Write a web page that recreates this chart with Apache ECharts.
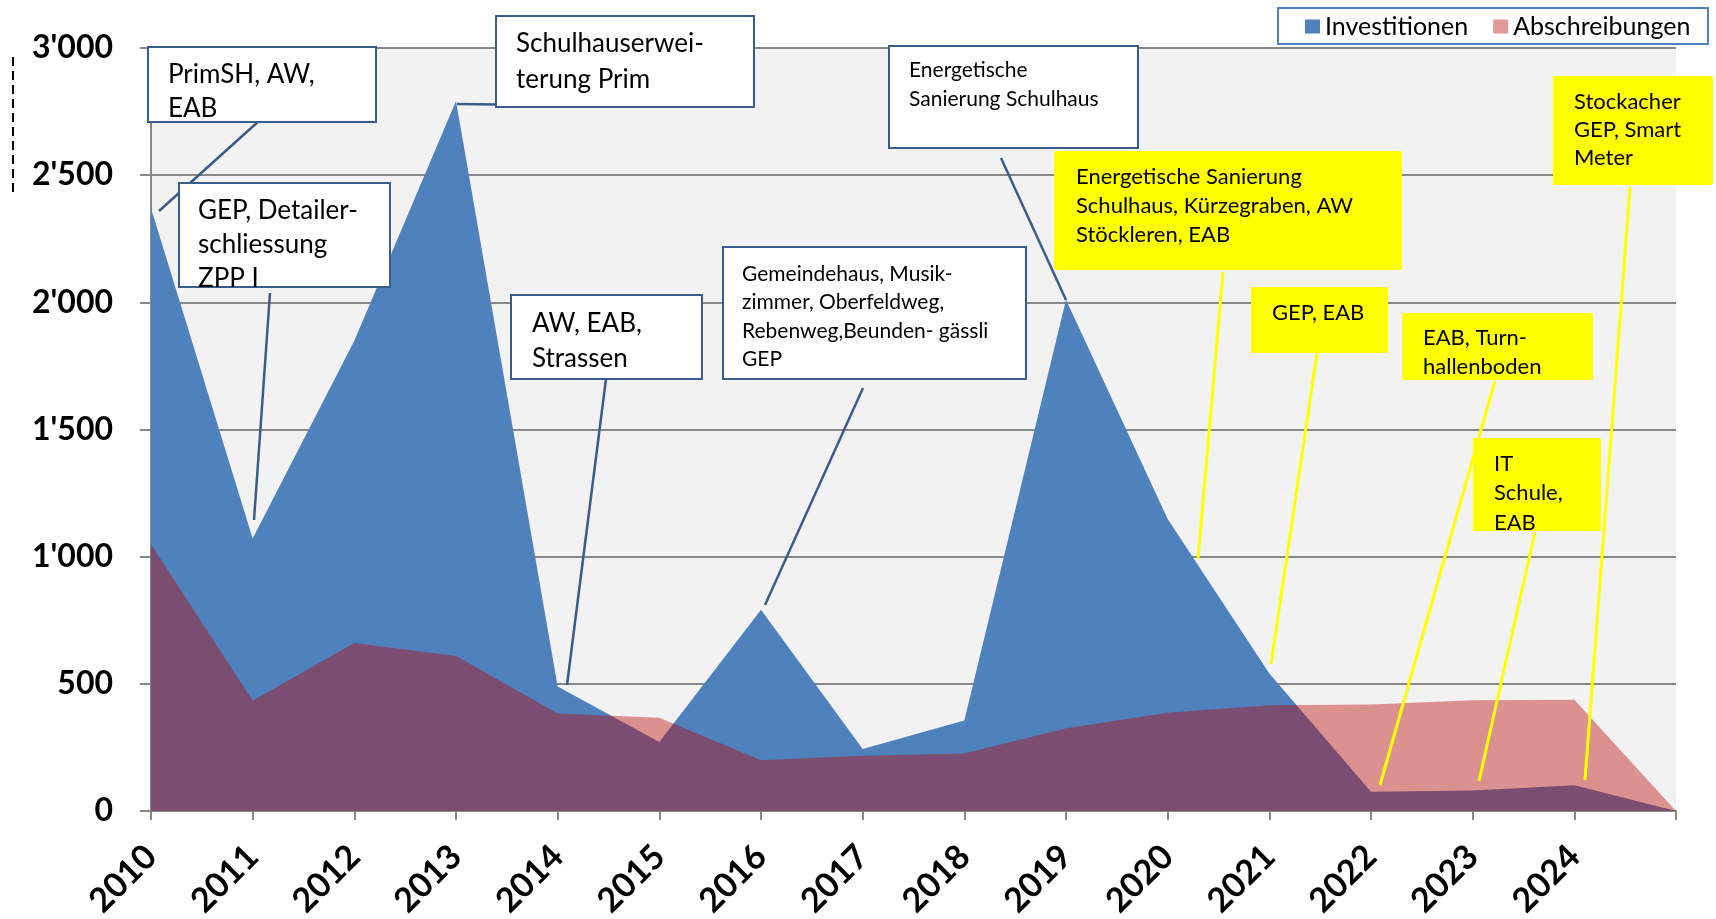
<!DOCTYPE html>
<html>
<head>
<meta charset="UTF-8" />
<title>Investitionen und Abschreibungen</title>
<script src="https://cdn.jsdelivr.net/npm/echarts@6/dist/echarts.min.js"></script>
<style>
  html, body { margin: 0; padding: 0; background: #fff; }
  #chart { width: 1716px; height: 919px; }
</style>
</head>
<body>
<div id="chart"></div>
<script>
// Daten
var jahre = ['2010','2011','2012','2013','2014','2015','2016','2017','2018','2019','2020','2021','2022','2023','2024',''];
var investitionen = [2370, 1071, 1849, 2792, 490, 271, 791, 244, 356, 2010, 1148, 541, 76, 81, 101, 0];
var abschreibungen = [1049, 433, 661, 609, 383, 367, 200, 217, 226, 325, 386, 416, 419, 435, 437, 0];
var yTicks = [0, 500, 1000, 1500, 2000, 2500, 3000];

var FONT = 'Lato, "Open Sans", sans-serif';

// Beschriftungen (Kaesten + Hinweislinien), Pixel
var notizen = [
  {box: [148, 47, 228, 75], tx: 168, ty: 58, lh: 34, fs: 26, kind: 'w', text: 'PrimSH, AW,\nEAB', line: [260, 120, 159, 211]},
  {box: [179, 183, 211, 104], tx: 198, ty: 194, lh: 34, fs: 26, kind: 'w', text: 'GEP, Detailer-\nschliessung\nZPP I', line: [270, 293, 254, 520]},
  {box: [496, 16, 258, 91], tx: 516, ty: 26, lh: 36, fs: 26, kind: 'w', text: 'Schulhauserwei-\nterung Prim', line: [457, 104, 613, 106]},
  {box: [511, 295, 191, 84], tx: 532, ty: 306, lh: 35, fs: 26, kind: 'w', text: 'AW, EAB,\nStrassen', line: [606, 379, 567, 685]},
  {box: [723, 247, 303, 132], tx: 742, ty: 260, lh: 28.3, fs: 21, kind: 'w', text: 'Gemeindehaus, Musik-\nzimmer, Oberfeldweg,\nRebenweg,Beunden- gässli\nGEP', line: [863, 388, 765, 605]},
  {box: [889, 46, 249, 102], tx: 909, ty: 56, lh: 29, fs: 21, kind: 'w', text: 'Energetische\nSanierung Schulhaus', line: [1001, 158, 1066, 300]},
  {box: [1054, 151, 348, 119], tx: 1076, ty: 162.5, lh: 29, fs: 22, kind: 'y', text: 'Energetische Sanierung\nSchulhaus, Kürzegraben, AW\nStöckleren, EAB', line: [1223, 272, 1198, 559]},
  {box: [1251, 287, 137, 66], tx: 1272, ty: 298.5, lh: 29, fs: 22, kind: 'y', text: 'GEP, EAB', line: [1317, 353, 1271, 664]},
  {box: [1402, 313, 191, 67], tx: 1423, ty: 323.5, lh: 29, fs: 22, kind: 'y', text: 'EAB, Turn-\nhallenboden', line: [1495, 381, 1380, 785]},
  {box: [1473, 438, 128, 93], tx: 1494, ty: 449, lh: 29.5, fs: 22, kind: 'y', text: 'IT\nSchule,\nEAB', line: [1535, 532, 1479, 781]},
  {box: [1553, 76, 160, 109], tx: 1574, ty: 88, lh: 28, fs: 22, kind: 'y', text: 'Stockacher\nGEP, Smart\nMeter', line: [1630, 187, 1585, 780]}
];

var grafik = [];
// Rahmen der Legende
grafik.push({type: 'rect', z: 0, shape: {x: 1278, y: 8, width: 430, height: 36},
  style: {fill: '#fff', stroke: '#4F81BD', lineWidth: 2}});
// abgeschnittener Achsentitel links
grafik.push({type: 'line', z: 90, shape: {x1: 13, y1: 57, x2: 13, y2: 197},
  style: {stroke: '#000', lineWidth: 2, lineDash: [9, 5]}});

notizen.forEach(function (n) {
  var gelb = n.kind === 'y';
  grafik.push({type: 'line', z: 100, shape: {x1: n.line[0], y1: n.line[1], x2: n.line[2], y2: n.line[3]},
    style: {stroke: gelb ? '#FFFF00' : '#385D8A', lineWidth: gelb ? 3 : 2.5}});
  grafik.push({type: 'rect', z: 101, shape: {x: n.box[0], y: n.box[1], width: n.box[2], height: n.box[3], r: gelb ? 2 : 0},
    style: gelb ? {fill: '#FFFF00'} : {fill: '#fff', stroke: '#385D8A', lineWidth: 2}});
  grafik.push({type: 'text', z: 102, x: n.tx, y: n.ty,
    style: {text: n.text, font: n.fs + 'px ' + FONT, fill: '#000', lineHeight: n.lh, verticalAlign: 'top', align: 'left'}});
});

var chart = echarts.init(document.getElementById('chart'));
chart.setOption({
  animation: false,
  backgroundColor: '#fff',
  grid: {left: 151, right: 40, top: 48, bottom: 108, show: true, backgroundColor: '#F2F2F2', borderWidth: 0,
    containLabel: false, outerBoundsMode: 'none'},
  legend: {
    z: 200,
    left: 1305, top: 14, padding: 0,
    icon: 'rect', itemWidth: 15, itemHeight: 14, itemGap: 25,
    textStyle: {fontFamily: FONT, fontSize: 25, color: '#000'},
    data: [
      {name: 'Investitionen', itemStyle: {color: '#4F81BD'}},
      {name: 'Abschreibungen', itemStyle: {color: 'rgba(187,0,0,0.4)'}}
    ]
  },
  xAxis: {
    type: 'category',
    data: jahre,
    boundaryGap: false,
    axisLine: {lineStyle: {color: '#878787', width: 2}},
    axisTick: {show: true, interval: 0, length: 9, lineStyle: {color: '#878787', width: 2}},
    axisLabel: {interval: 0, rotate: 45, margin: 40, fontFamily: FONT, fontSize: 34, fontWeight: 'bold', color: '#000'},
    splitLine: {show: false}
  },
  yAxis: {
    type: 'value',
    min: yTicks[0], max: yTicks[yTicks.length - 1], interval: 500,
    axisLine: {show: true, lineStyle: {color: '#878787', width: 2}},
    axisTick: {show: true, length: 11, lineStyle: {color: '#878787', width: 2}},
    axisLabel: {
      margin: 38, fontFamily: FONT, fontSize: 32, fontWeight: 'bold', color: '#000',
      formatter: function (v) {
        var s = String(v);
        return s.length > 3 ? s.slice(0, s.length - 3) + "'" + s.slice(-3) : s;
      }
    },
    splitLine: {show: true, lineStyle: {color: '#878787', width: 2}}
  },
  series: [
    {
      name: 'Investitionen', type: 'line', data: investitionen,
      symbol: 'none', z: 2,
      itemStyle: {color: '#4F81BD'},
      lineStyle: {width: 0, opacity: 0},
      areaStyle: {color: '#4F81BD', opacity: 1}
    },
    {
      name: 'Abschreibungen', type: 'line', data: abschreibungen,
      symbol: 'none', z: 3,
      itemStyle: {color: 'rgba(187,0,0,0.4)'},
      lineStyle: {width: 0, opacity: 0},
      areaStyle: {color: 'rgba(187,0,0,0.4)', opacity: 1}
    }
  ],
  graphic: grafik
});
</script>
</body>
</html>
